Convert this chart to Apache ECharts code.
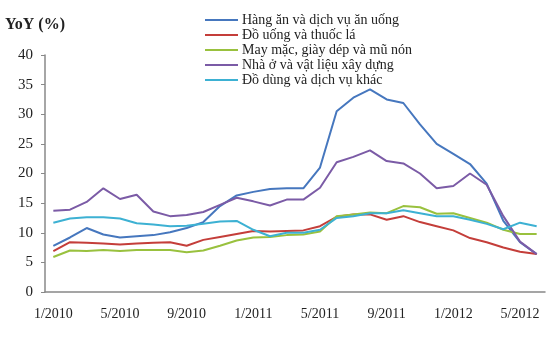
<!DOCTYPE html>
<html>
<head>
<meta charset="utf-8">
<script src="https://cdn.jsdelivr.net/npm/echarts@6/dist/echarts.min.js"></script>
<style>
  html, body { margin: 0; padding: 0; background: #fff; }
  #chart { width: 550px; height: 354px; }
</style>
</head>
<body>
<div id="chart"></div>
<script>
// thang 1/2010 -> 6/2012
const months = [
  '1/2010', '2/2010', '3/2010', '4/2010', '5/2010', '6/2010', '7/2010', '8/2010', '9/2010', '10/2010', '11/2010', '12/2010',
  '1/2011', '2/2011', '3/2011', '4/2011', '5/2011', '6/2011', '7/2011', '8/2011', '9/2011', '10/2011', '11/2011', '12/2011',
  '1/2012', '2/2012', '3/2012', '4/2012', '5/2012', '6/2012'
];
const seriesNames = [
  'Hàng ăn và dịch vụ ăn uống',
  'Đồ uống và thuốc lá',
  'May mặc, giày dép và mũ nón',
  'Nhà ở và vật liệu xây dựng',
  'Đồ dùng và dịch vụ khác'
];
const hangAn = [7.8, 9.2, 10.8, 9.7, 9.2, 9.4, 9.6, 10.1, 10.8, 11.8, 14.5, 16.3, 16.9, 17.4, 17.5, 17.5, 21.0, 30.5, 32.8, 34.2, 32.5, 31.9, 28.3, 25.0, 23.3, 21.6, 18.3, 12.0, 8.4, 6.4];
const doUong = [6.9, 8.4, 8.3, 8.2, 8.0, 8.2, 8.3, 8.4, 7.8, 8.8, 9.3, 9.8, 10.3, 10.2, 10.3, 10.4, 11.1, 12.7, 13.1, 13.1, 12.2, 12.8, 11.8, 11.1, 10.4, 9.1, 8.4, 7.5, 6.8, 6.4];
const mayMac = [5.9, 7.0, 6.9, 7.1, 6.9, 7.1, 7.1, 7.1, 6.7, 7.0, 7.8, 8.7, 9.2, 9.3, 9.6, 9.7, 10.2, 12.8, 13.1, 13.4, 13.3, 14.5, 14.3, 13.2, 13.3, 12.5, 11.7, 10.5, 9.8, 9.8];
const nhaO = [13.7, 13.9, 15.2, 17.5, 15.7, 16.4, 13.6, 12.8, 13.0, 13.5, 14.7, 15.9, 15.3, 14.6, 15.6, 15.6, 17.6, 21.9, 22.8, 23.9, 22.1, 21.7, 20.0, 17.5, 17.9, 20.0, 18.1, 12.8, 8.5, 6.4];
const doDung = [11.7, 12.4, 12.6, 12.6, 12.4, 11.6, 11.4, 11.1, 11.2, 11.5, 11.9, 12.0, 10.5, 9.4, 10.0, 10.0, 10.5, 12.5, 12.8, 13.3, 13.3, 13.8, 13.3, 12.8, 12.8, 12.2, 11.5, 10.6, 11.7, 11.1];

const colors = ['#4677BE', '#C43E3A', '#99C13E', '#7B5BA6', '#3DB1D3'];
const font = 'Liberation Serif';

let myChart = echarts.init(document.getElementById('chart'));
const mk = (name, data) => ({
  name: name,
  type: 'line',
  data: data,
  symbol: 'none',
  lineStyle: { width: 2 }
});
myChart.setOption({
  animation: false,
  color: colors,
  title: {
    text: 'YoY (%)',
    left: 0,
    top: 12,
    textStyle: { fontFamily: font, fontSize: 16, fontWeight: 'bold', color: '#222' }
  },
  legend: {
    orient: 'vertical',
    left: 205,
    top: 13,
    padding: 0,
    icon: 'rect',
    itemWidth: 33,
    itemHeight: 2,
    itemGap: 1,
    data: seriesNames,
    textStyle: { fontFamily: font, fontSize: 14, lineHeight: 14, color: '#222', padding: [0, 0, 0, -1] }
  },
  grid: { left: 45, right: 5, top: 55, bottom: 62 },
  xAxis: {
    type: 'category',
    boundaryGap: true,
    data: months,
    axisLine: { lineStyle: { color: '#888', width: 1.5 } },
    axisTick: { interval: 0, length: 3, lineStyle: { color: '#888' } },
    axisLabel: { interval: 3, margin: 15, fontFamily: font, fontSize: 14, color: '#222' }
  },
  yAxis: {
    type: 'value',
    min: 0,
    max: 40,
    interval: 5,
    splitLine: { show: false },
    axisLine: { show: true, lineStyle: { color: '#888', width: 1.5 } },
    axisTick: { show: true, length: 4, lineStyle: { color: '#888' } },
    axisLabel: { margin: 12, fontFamily: font, fontSize: 15, color: '#222' }
  },
  series: [
    mk(seriesNames[0], hangAn),
    mk(seriesNames[1], doUong),
    mk(seriesNames[2], mayMac),
    mk(seriesNames[3], nhaO),
    mk(seriesNames[4], doDung)
  ]
});
</script>
</body>
</html>
